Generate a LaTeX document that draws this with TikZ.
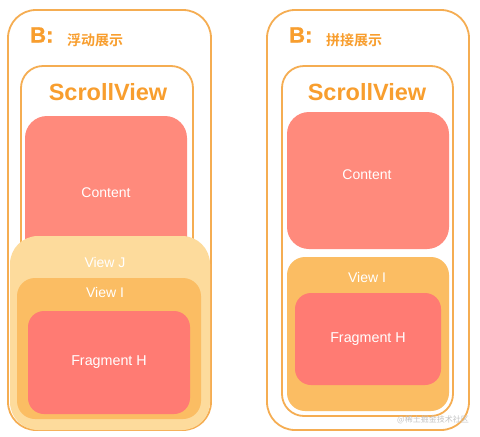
\documentclass[tikz,border=0pt]{standalone}
\usepackage{fontspec}
\setmainfont{Liberation Sans}
\newfontfamily\heavyfont{Liberation Sans}[UprightFont=*-Bold, FakeBold=1.2]
\newfontfamily\cjk{Noto Sans CJK SC}[BoldFont={Noto Sans CJK SC Bold}]
\definecolor{frameor}{HTML}{F5AD52}
\definecolor{titleor}{HTML}{F89E2E}
\definecolor{contentc}{HTML}{FF8A7C}
\definecolor{fragc}{HTML}{FF7B73}
\definecolor{viewj}{HTML}{FDDB9C}
\definecolor{viewi}{HTML}{FBBD63}
\definecolor{wmark}{HTML}{C4C4C4}
\tikzset{
  frame/.style={draw=frameor, line width=1.8pt, fill=white, inner sep=0pt},
  solidbox/.style={draw=none, inner sep=0pt},
  lbl/.style={text=white, font=\fontsize{14}{16}\selectfont, inner sep=0pt},
  bigB/.style={text=titleor, font=\heavyfont\fontsize{22}{24}\selectfont, inner sep=0pt, anchor=base west},
  cjktitle/.style={text=titleor, font=\cjk\fontsize{14}{16}\selectfont\bfseries, inner sep=0pt, anchor=base west},
  svtitle/.style={text=titleor, font=\fontsize{23.5}{26}\selectfont\bfseries, inner sep=0pt},
}
\begin{document}
\begin{tikzpicture}[x=1pt,y=-1pt]
\useasboundingbox (0,0) rectangle (480,437);
% ---------------- left panel ----------------
\node[frame, rounded corners=28pt, minimum width=203pt, minimum height=420pt] (Lout) at (109.5,220) {};
\node[bigB] (LB) at (30,42.5) {B:};
\node[cjktitle] (Ltitle) at (67,45.5) {浮动展示};
\node[frame, rounded corners=22pt, minimum width=172pt, minimum height=354pt] (Lsv) at (107,243) {};
\node[svtitle] (Lsvt) at (108,92) {ScrollView};
\node[solidbox, fill=contentc, rounded corners=22pt, minimum width=162pt, minimum height=184pt] (Lcont) at (106,208) {};
\node[lbl] (Lcontt) at (106,193) {Content};
\node[solidbox, fill=viewj, rounded corners=28pt, minimum width=200pt, minimum height=194pt] (Lvj) at (110,333) {};
\node[lbl] (Lvjt) at (105,262) {View J};
\node[solidbox, fill=viewi, rounded corners=18pt, minimum width=184pt, minimum height=141pt] (Lvi) at (109,348.5) {};
\node[lbl] (Lvit) at (105,292) {View I};
\node[solidbox, fill=fragc, rounded corners=16pt, minimum width=162pt, minimum height=103pt, text=white, font=\fontsize{14.3}{16}\selectfont] (Lfr) at (109,362.5) {Fragment H};
% ---------------- right panel ----------------
\node[frame, rounded corners=28pt, minimum width=202pt, minimum height=420pt] (Rout) at (368,220) {};
\node[bigB] (RB) at (289,42.5) {B:};
\node[cjktitle] (Rtitle) at (326,45.5) {拼接展示};
\node[frame, rounded corners=22pt, minimum width=171pt, minimum height=350pt] (Rsv) at (367.5,241) {};
\node[svtitle] (Rsvt) at (367,92) {ScrollView};
\node[solidbox, fill=contentc, rounded corners=22pt, minimum width=162pt, minimum height=137pt] (Rcont) at (368,180.5) {};
\node[lbl] (Rcontt) at (367,175) {Content};
\node[solidbox, fill=viewi, rounded corners=18pt, minimum width=162pt, minimum height=154pt] (Rvi) at (368,334) {};
\node[lbl] (Rvit) at (367,277) {View I};
\node[solidbox, fill=fragc, rounded corners=16pt, minimum width=146pt, minimum height=92pt, text=white, font=\fontsize{14.3}{16}\selectfont] (Rfr) at (368,339) {Fragment H};
% watermark
\node[text=wmark, font=\cjk\fontsize{8}{9}\selectfont, inner sep=0pt] (wm) at (433,420) {@稀土掘金技术社区};
\end{tikzpicture}
\end{document}
